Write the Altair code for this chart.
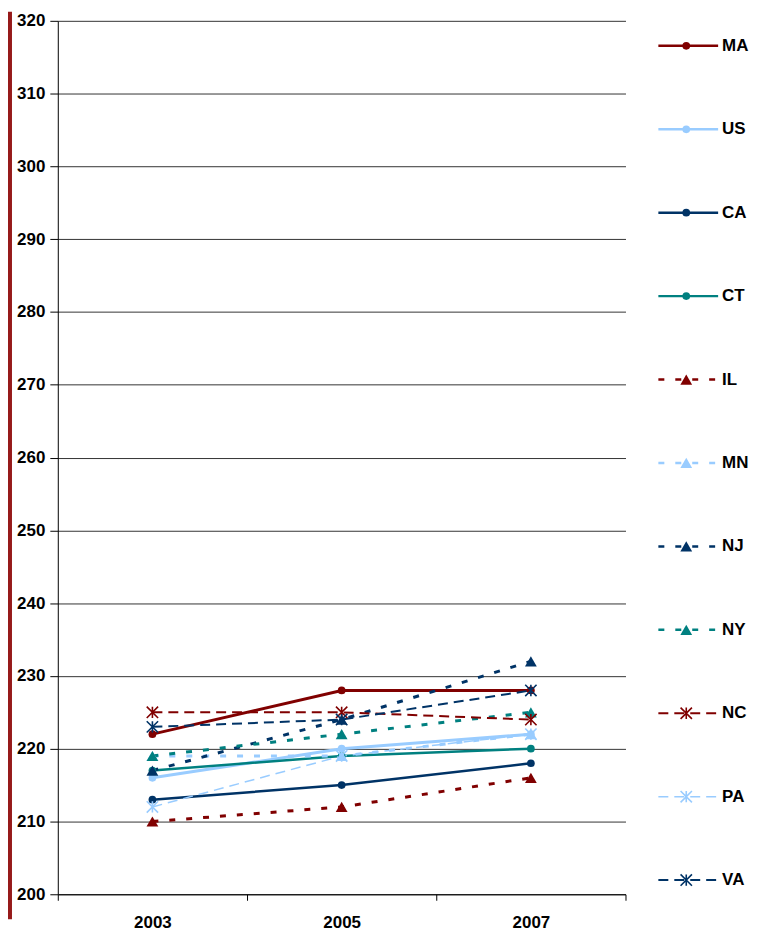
import altair as alt
import pandas as pd

years = ["2003", "2005", "2007"]
series = ["MA", "US", "CA", "CT", "IL", "MN", "NJ", "NY", "NC", "PA", "VA"]
MA = [222, 228, 228]
US = [216, 220, 222]
CA = [213, 215, 218]
CT = [217, 219, 220]
IL = [210, 212, 216]
MN = [219, 219, 222]
NJ = [217, 224, 232]
NY = [219, 222, 225]
NC = [225, 225, 224]
PA = [212, 219, 222]
VA = [223, 224, 228]
y_ticks = [200, 210, 220, 230, 240, 250, 260, 270, 280, 290, 300, 310, 320]

values = {"MA": MA, "US": US, "CA": CA, "CT": CT, "IL": IL, "MN": MN,
          "NJ": NJ, "NY": NY, "NC": NC, "PA": PA, "VA": VA}

rows = []
for s in series:
    for yr, v in zip(years, values[s]):
        rows.append({"state": s, "year": yr, "score": v})
df = pd.DataFrame(rows)
leg = pd.DataFrame({"state": series, "idx": list(range(len(series)))})

RED, LB, NAVY, TEAL = "#800000", "#99CCFF", "#003366", "#008080"
STAR = "M-1,-1L1,1M-1,1L1,-1M0,-1L0,1"
SHORT = [6, 11]
LONG = [10, 6]
style = {
    "MA": dict(color=RED, dash=None, width=3, shape="circle", size=60, filled=True),
    "US": dict(color=LB, dash=None, width=3, shape="circle", size=60, filled=True),
    "CA": dict(color=NAVY, dash=None, width=2.5, shape="circle", size=60, filled=True),
    "CT": dict(color=TEAL, dash=None, width=2.5, shape="circle", size=60, filled=True),
    "IL": dict(color=RED, dash=SHORT, width=3, shape="triangle-up", size=140, filled=True),
    "MN": dict(color=LB, dash=SHORT, width=3, shape="triangle-up", size=140, filled=True),
    "NJ": dict(color=NAVY, dash=SHORT, width=3, shape="triangle-up", size=140, filled=True),
    "NY": dict(color=TEAL, dash=SHORT, width=3, shape="triangle-up", size=140, filled=True),
    "NC": dict(color=RED, dash=LONG, width=2, shape=STAR, size=130, filled=False),
    "PA": dict(color=LB, dash=LONG, width=1.5, shape=STAR, size=130, filled=False),
    "VA": dict(color=NAVY, dash=LONG, width=2, shape=STAR, size=130, filled=False),
}

FONT = "Liberation Sans"
W, H = 570, 877

x_axis = alt.Axis(title=None, labelAngle=0, tickBand="extent", tickSize=6,
                  tickColor="black", domainColor="black", labelPadding=14,
                  labelFontSize=17, labelFontWeight="bold", labelColor="black",
                  labelFont=FONT, grid=False)
y_axis = alt.Axis(title=None, values=y_ticks, grid=True, gridColor="#333333",
                  gridWidth=1, domainColor="black", tickColor="black", tickSize=8,
                  labelPadding=5, labelFontSize=17, labelFontWeight="bold",
                  labelColor="black", labelFont=FONT, minExtent=50, maxExtent=50)

X = alt.X("year:O", bandPosition=0.5,
          scale=alt.Scale(type="band", domain=years, paddingInner=0, paddingOuter=0),
          axis=x_axis)
Y = alt.Y("score:Q", scale=alt.Scale(domain=[200, 320], nice=False, zero=False),
          axis=y_axis)


def marker(base, st):
    if st["filled"]:
        return base.mark_point(shape=st["shape"], size=st["size"], filled=True,
                               color=st["color"], opacity=1)
    return base.mark_point(shape=st["shape"], size=st["size"], filled=False,
                           color=st["color"], strokeWidth=1.6, opacity=1)


main_layers = []
for s in series:
    st = style[s]
    base = alt.Chart(df).transform_filter(alt.datum.state == s)
    lkw = dict(color=st["color"], strokeWidth=st["width"])
    if st["dash"]:
        lkw["strokeDash"] = st["dash"]
    main_layers.append(base.mark_line(**lkw).encode(x=X, y=Y))
for s in series:
    st = style[s]
    base = alt.Chart(df).transform_filter(alt.datum.state == s)
    main_layers.append(marker(base, st).encode(x=X, y=Y))
main = alt.layer(*main_layers)

YL = alt.Y("idx:Q", scale=alt.Scale(domain=[-0.30, 10.17], reverse=True,
                                    nice=False, zero=False), axis=None)
leg_layers = []
for s in series:
    st = style[s]
    base = alt.Chart(leg).transform_filter(alt.datum.state == s)
    rkw = dict(color=st["color"], strokeWidth=min(st["width"], 2.5))
    if st["dash"]:
        rkw["strokeDash"] = st["dash"]
    leg_layers.append(base.mark_rule(**rkw).encode(
        x=alt.value(603), x2=alt.value(663), y=YL))
    leg_layers.append(marker(base, st).encode(x=alt.value(631), y=YL))
    leg_layers.append(base.mark_text(align="left", baseline="middle", fontSize=17,
                                     fontWeight="bold", font=FONT, color="black")
                      .encode(x=alt.value(667), y=YL, text="state:N"))
legend = alt.layer(*leg_layers)

bar = alt.Chart(pd.DataFrame({"a": [0]})).mark_rule(
    color="#961a1a", strokeWidth=4).encode(
    x=alt.value(-48), y=alt.value(-9), y2=alt.value(902))

chart = alt.layer(bar, main, legend).resolve_scale(y="independent").properties(
    width=W, height=H, padding={"left": 0, "top": 0, "right": 0, "bottom": 0}
).configure_view(stroke=None)

chart.save("out.html", embed_options={"renderer": "svg", "actions": False})
